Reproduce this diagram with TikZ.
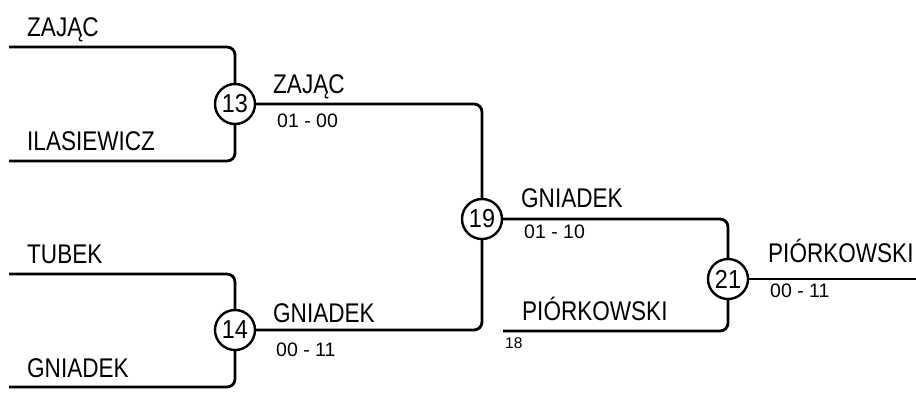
\documentclass[tikz,border=0pt]{standalone}
\usepackage{fontspec}
\setmainfont[FakeStretch=0.835]{Liberation Sans}
\newfontfamily\scorefont[FakeStretch=1.0]{Liberation Sans}
\newfontfamily\circfont[FakeStretch=0.9]{Liberation Sans}
\begin{document}
\begin{tikzpicture}[x=1pt,y=-1pt,
  wire/.style={line width=2.8pt,rounded corners=8pt},
  gamecirc/.style={circle,draw,line width=2.4pt,minimum size=40pt,inner sep=0pt,font=\circfont\fontsize{26}{26}\selectfont},
  playername/.style={anchor=base west,inner sep=0pt,font=\fontsize{27}{27}\selectfont},
  scoretext/.style={anchor=base west,inner sep=0pt,font=\scorefont\fontsize{19.5}{19.5}\selectfont},
  seedtext/.style={anchor=base west,inner sep=0pt,font=\scorefont\fontsize{15.5}{15.5}\selectfont}]
\useasboundingbox (0,0) rectangle (916,392);
% games
\node[gamecirc] (m13) at (235,104) {13};
\node[gamecirc] (m14) at (235,330) {14};
\node[gamecirc] (m19) at (482,219) {19};
\node[gamecirc] (m21) at (728,279) {21};
% line ends
\coordinate (s1) at (9,47);
\coordinate (s2) at (9,161);
\coordinate (s3) at (9,274);
\coordinate (s4) at (9,387);
\coordinate (s18) at (503,331);
\coordinate (e21) at (916,279);
% connectors
\draw[wire] (s1) -| (m13);
\draw[wire] (s2) -| (m13);
\draw[wire] (s3) -| (m14);
\draw[wire] (s4) -| (m14);
\draw[wire] (m13) -| (m19);
\draw[wire] (m14) -| (m19);
\draw[wire] (m19) -| (m21);
\draw[wire] (s18) -| (m21);
\draw[wire] (m21) -- (e21);
% labels
\node[playername] (n1) at (27,36) {ZAJĄC};
\node[playername] (n2) at (27,150) {ILASIEWICZ};
\node[playername] (n3) at (27,263) {TUBEK};
\node[playername] (n4) at (27,377) {GNIADEK};
\node[playername] (w13) at (273,93) {ZAJĄC};
\node[scoretext] (r13) at (277,127) {01 - 00};
\node[playername] (w14) at (273,322) {GNIADEK};
\node[scoretext] (r14) at (276,356) {00 - 11};
\node[playername] (w19) at (521,207) {GNIADEK};
\node[scoretext] (r19) at (524,238) {01 - 10};
\node[playername] (n18) at (522,320) {PIÓRKOWSKI};
\node[seedtext] (g18) at (505,348) {18};
\node[playername] (w21) at (768,262) {PIÓRKOWSKI};
\node[scoretext] (r21) at (770,297) {00 - 11};
\end{tikzpicture}
\end{document}
